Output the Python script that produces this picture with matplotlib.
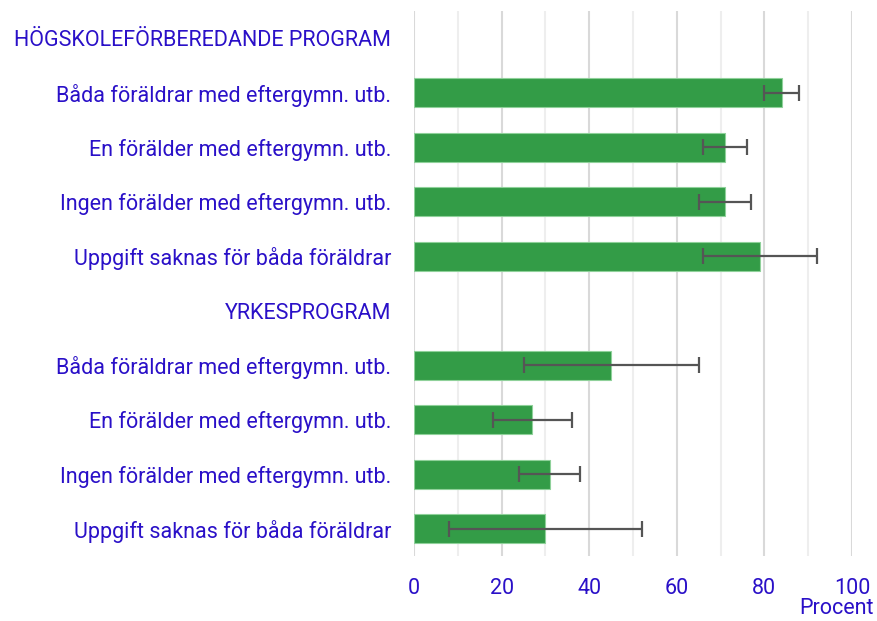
import matplotlib
matplotlib.use("Agg")
import matplotlib.pyplot as plt
import numpy as np

plt.rcParams['font.family'] = ['Roboto', 'DejaVu Sans']

labels = [
    "HÖGSKOLEFÖRBEREDANDE PROGRAM",
    "Båda föräldrar med eftergymn. utb.",
    "En förälder med eftergymn. utb.",
    "Ingen förälder med eftergymn. utb.",
    "Uppgift saknas för båda föräldrar",
    "YRKESPROGRAM",
    "Båda föräldrar med eftergymn. utb.",
    "En förälder med eftergymn. utb.",
    "Ingen förälder med eftergymn. utb.",
    "Uppgift saknas för båda föräldrar",
]
values = [np.nan, 84, 71, 71, 79, np.nan, 45, 27, 31, 30]
err_low = [np.nan, 80, 66, 65, 66, np.nan, 25, 18, 24, 8]
err_high = [np.nan, 88, 76, 77, 92, np.nan, 65, 36, 38, 52]
xticks = [0, 20, 40, 60, 80, 100]
xlabel = "Procent"

text_color = "#2a10c8"
bar_color = "#339c47"

fig = plt.figure(figsize=(8.77, 6.21), dpi=100)
ax = fig.add_axes([414/877, 1 - 556/621, (852-414)/877, (556-11)/621])

y = np.arange(len(labels))
vals = np.array(values, dtype=float)
lo = np.array(err_low, dtype=float)
hi = np.array(err_high, dtype=float)
mask = ~np.isnan(vals)

ax.barh(y[mask], vals[mask], height=0.53, color=bar_color, edgecolor="#8fd19a",
        linewidth=0.8, zorder=3)
for yi, l, h in zip(y[mask], lo[mask], hi[mask]):
    ax.errorbar([(l + h) / 2], [yi], xerr=[[(h - l) / 2]], fmt="none",
                ecolor="#555555", elinewidth=1.6, capsize=6, capthick=1.6, zorder=4)

ax.set_xlim(0, 100)
ax.set_ylim(len(labels) - 0.5, -0.5)
ax.set_yticks(y)
ax.set_yticklabels(labels)
ax.set_xticks(xticks)
ax.set_xticks(np.arange(10, 100, 20), minor=True)
ax.tick_params(axis='y', length=0, pad=16.5, labelsize=15.5, labelcolor=text_color)
ax.tick_params(axis='x', which='both', length=0, pad=16, labelsize=15.5, labelcolor=text_color)

ax.grid(axis='x', which='major', color="#d9d9d9", linewidth=1.5, zorder=0)
ax.grid(axis='x', which='minor', color="#eeeeee", linewidth=1.5, zorder=0)
ax.grid(axis='y', visible=False)
for s in ax.spines.values():
    s.set_visible(False)

fig.text(874/877, 1 - 609/621, xlabel, ha='right', va='center', fontsize=15.5, color=text_color)

fig.savefig("out.png", dpi=100)
